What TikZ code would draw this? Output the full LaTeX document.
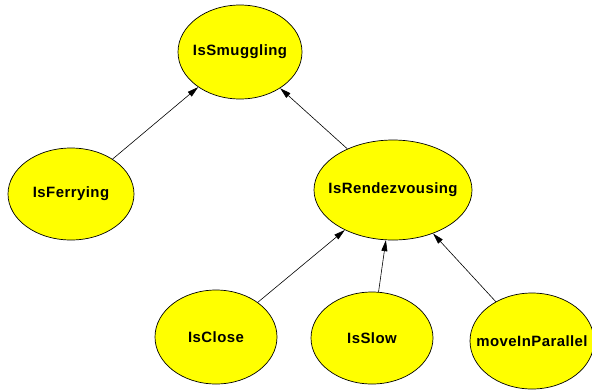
\documentclass[tikz,border=0pt]{standalone}
\usepackage{fontspec}
\setmainfont{Liberation Sans}
\newfontfamily\nodefont[LetterSpace=3]{Liberation Sans}
\usetikzlibrary{shapes.geometric,arrows.meta}
\tikzset{
  bn/.style={ellipse, draw=black, line width=0.7pt, fill={rgb,255:red,255;green,255;blue,0},
    inner xsep=-40bp, inner ysep=-10bp,
    font=\nodefont\fontsize{15}{17}\selectfont\bfseries},
  edge/.style={line width=0.6pt, -{Triangle[length=11bp,width=6bp]}}
}
\begin{document}
\begin{tikzpicture}[x=1bp,y=-1bp]
\useasboundingbox (0,0) rectangle (592,389);
\node[bn, minimum width=124bp, minimum height=94bp] (smug) at (240,52) {IsSmuggling};
\node[bn, minimum width=126bp, minimum height=92bp] (ferry) at (71,194) {IsFerrying};
\node[bn, minimum width=158bp, minimum height=100bp] (rend) at (393,190) {IsRendezvousing};
\node[bn, minimum width=122bp, minimum height=94bp] (close) at (216,337) {IsClose};
\node[bn, minimum width=122bp, minimum height=92bp] (slow) at (372,338) {IsSlow};
\node[bn, minimum width=124bp, minimum height=96bp] (par) at (532,341) {moveInParallel};
\draw[edge] (ferry) -- (smug);
\draw[edge] (rend) -- (smug);
\draw[edge] (close) -- (rend);
\draw[edge] (slow) -- (rend);
\draw[edge] (par) -- (rend);
\end{tikzpicture}
\end{document}
